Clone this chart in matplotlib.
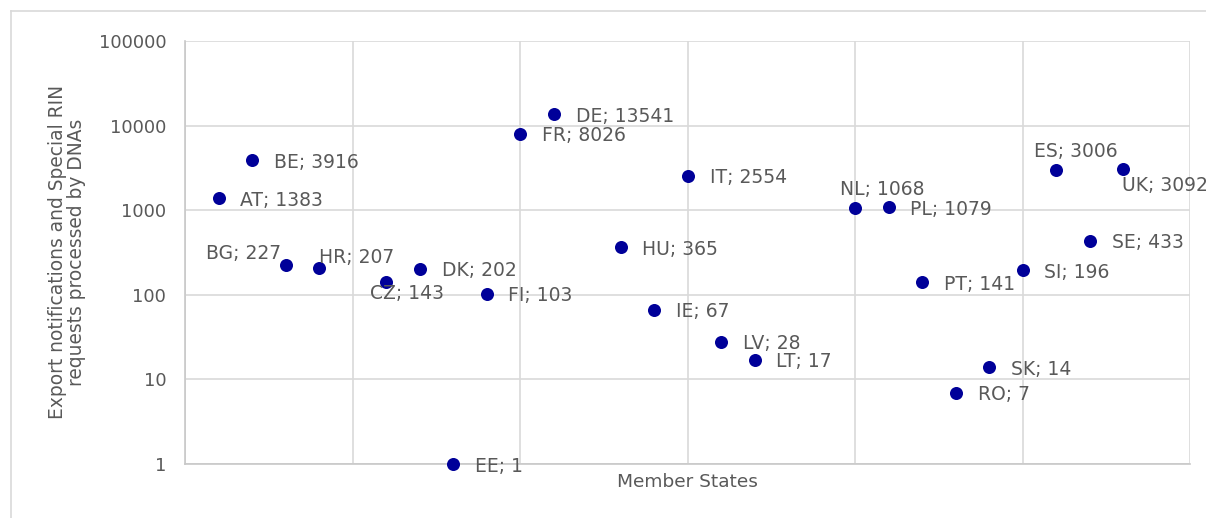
import matplotlib
matplotlib.use("Agg")
import matplotlib.pyplot as plt
from matplotlib.lines import Line2D
from matplotlib.ticker import FixedLocator, NullFormatter, FuncFormatter

# EU-28 member states in alphabetical order of country name (x = position in this list)
eu28 = ['AT', 'BE', 'BG', 'HR', 'CY', 'CZ', 'DK', 'EE', 'FI', 'FR', 'DE', 'EL', 'HU', 'IE',
        'IT', 'LV', 'LT', 'LU', 'MT', 'NL', 'PL', 'PT', 'RO', 'SK', 'SI', 'ES', 'SE', 'UK']
codes = ['AT', 'BE', 'BG', 'HR', 'CZ', 'DK', 'EE', 'FI', 'FR', 'DE', 'HU', 'IE', 'IT', 'LV',
         'LT', 'NL', 'PL', 'PT', 'RO', 'SK', 'SI', 'ES', 'SE', 'UK']
values = [1383, 3916, 227, 207, 143, 202, 1, 103, 8026, 13541, 365, 67, 2554, 28,
          17, 1068, 1079, 141, 7, 14, 196, 3006, 433, 3092]
y_ticks = [1, 10, 100, 1000, 10000, 100000]

xs = [eu28.index(c) + 1 for c in codes]

TXT = '#595959'
GRID = '#d9d9d9'
DOT = '#000099'

W, H = 1206, 518
fig = plt.figure(figsize=(W / 100, H / 100), dpi=100)
fig.patch.set_facecolor('white')
# outer chart border (only top and left edges visible in the crop)
fig.add_artist(Line2D([10.5 / W, 1.02], [1 - 10.5 / H, 1 - 10.5 / H], transform=fig.transFigure,
                      color=GRID, lw=1.2))
fig.add_artist(Line2D([10.5 / W, 10.5 / W], [-0.02, 1 - 10.5 / H], transform=fig.transFigure,
                      color=GRID, lw=1.2))

ax = fig.add_axes([185 / W, 1 - 464 / H, (1190 - 185) / W, (464 - 41) / H])
ax.set_yscale('log')
ax.set_ylim(1, 100000)
ax.set_xlim(0, 30)
ax.yaxis.set_major_locator(FixedLocator(y_ticks))
ax.yaxis.set_minor_locator(FixedLocator([]))
ax.yaxis.set_major_formatter(FuncFormatter(lambda v, p: f'{int(round(v))}'))
ax.xaxis.set_major_locator(FixedLocator([0, 5, 10, 15, 20, 25, 30]))
ax.xaxis.set_major_formatter(NullFormatter())
ax.grid(True, which='major', color=GRID, lw=1.2)
ax.set_axisbelow(True)
for s in ['top', 'right']:
    ax.spines[s].set_visible(False)
for s in ['left', 'bottom']:
    ax.spines[s].set_color('#c8c8c8')
    ax.spines[s].set_linewidth(1.2)
ax.tick_params(axis='both', length=0, colors=TXT, labelsize=13, pad=13.5)

ax.scatter(xs, values, s=88, color=DOT, zorder=3, clip_on=False, linewidths=0)

# label offsets in pixels: (dx, dy, ha)
offsets = {
    'BG': (-4, 11, 'right'),
    'HR': (0, 11, 'left'),
    'CZ': (-16, -12, 'left'),
    'NL': (-15, 18, 'left'),
    'ES': (-22, 18, 'left'),
    'UK': (-1, -17, 'left'),
}
for c, x, v in zip(codes, xs, values):
    dx, dy, ha = offsets.get(c, (22, -2, 'left'))
    ax.annotate(f'{c}; {v}', (x, v), xytext=(dx, dy), textcoords='offset pixels',
                ha=ha, va='center', fontsize=13.5, color=TXT, annotation_clip=False, zorder=4)

fig.text(687.5 / W, 1 - 482 / H, 'Member States', ha='center', va='center',
         fontsize=13.3, color=TXT)
fig.text(67 / W, 1 - 252 / H, 'Export notifications and Special RIN\nrequests processed by DNAs',
         ha='center', va='center', rotation=90, rotation_mode='anchor',
         fontsize=13.4, color=TXT, linespacing=1.05, multialignment='center')

fig.savefig('out.png', dpi=100, facecolor='white')
